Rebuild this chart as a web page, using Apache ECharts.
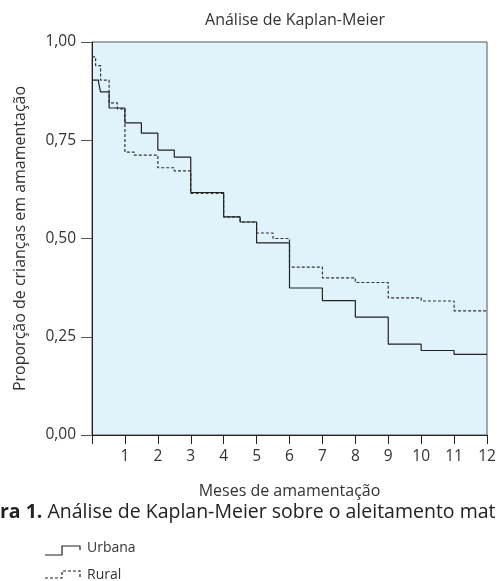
<!DOCTYPE html>
<html>
<head>
<meta charset="utf-8">
<script src="https://cdn.jsdelivr.net/npm/echarts@6/dist/echarts.min.js"></script>
<style>html,body{margin:0;padding:0;background:#fff}#c{width:499px;height:581px}</style>
</head>
<body>
<div id="c"></div>
<script>
const urbanTimes = [0, 0.2, 0.26, 0.52, 1, 1.5, 2, 2.5, 3, 4, 4.5, 5, 6, 7, 8, 9, 10, 11, 12];
const urbanSurv  = [0.903, 0.897, 0.873, 0.832, 0.794, 0.768, 0.725, 0.707, 0.617, 0.555, 0.542, 0.489, 0.374, 0.342, 0.300, 0.231, 0.215, 0.205, 0.205];
const ruralTimes = [0, 0.11, 0.26, 0.52, 0.77, 1, 1.28, 2, 2.5, 3, 4, 4.5, 5, 5.5, 6, 7, 8, 9, 10, 11, 12];
const ruralSurv  = [0.962, 0.94, 0.903, 0.845, 0.83, 0.72, 0.712, 0.68, 0.672, 0.615, 0.555, 0.542, 0.514, 0.50, 0.427, 0.40, 0.388, 0.349, 0.341, 0.316, 0.316];
const xTicks = [1,2,3,4,5,6,7,8,9,10,11,12];
const yTicks = [0, 0.25, 0.5, 0.75, 1];

const FONT = '"Open Sans", sans-serif';
const chart = echarts.init(document.getElementById('c'), null, {renderer: 'canvas'});
const pair = (t, v) => t.map((x, i) => [x, v[i]]);

chart.setOption({
  animation: false,
  backgroundColor: '#fff',
  title: {
    text: 'Análise de Kaplan-Meier',
    left: 290, top: 7, textAlign: 'center',
    textStyle: {fontFamily: FONT, fontSize: 16, fontWeight: 'normal', color: '#333'}
  },
  grid: {
    left: 92, right: 12, top: 42, bottom: 146,
    show: true, backgroundColor: '#e0f2fa', borderColor: '#555', borderWidth: 1
  },
  xAxis: {
    type: 'value', min: 0, max: 12, interval: 1,
    name: 'Meses de amamentação', nameLocation: 'middle', nameGap: 48,
    nameTextStyle: {fontFamily: FONT, fontSize: 16, color: '#333'},
    axisLine: {show: true, lineStyle: {color: '#222', width: 1}},
    axisTick: {show: true, length: 9, lineStyle: {color: '#222'}},
    axisLabel: {
      fontFamily: FONT, fontSize: 15.5, color: '#333', margin: 14,
      formatter: v => (xTicks.indexOf(v) >= 0 ? String(v) : '')
    },
    splitLine: {show: false}
  },
  yAxis: {
    type: 'value', min: 0, max: 1, interval: 0.25,
    name: 'Proporção de crianças em amamentação', nameLocation: 'middle', nameGap: 64,
    nameTextStyle: {fontFamily: FONT, fontSize: 16, color: '#333'},
    axisLine: {show: true, lineStyle: {color: '#222', width: 1}},
    axisTick: {show: true, length: 11, lineStyle: {color: '#555'}},
    axisLabel: {
      fontFamily: FONT, fontSize: 15.5, color: '#333', margin: 16,
      formatter: v => v.toFixed(2).replace('.', ',')
    },
    splitLine: {show: false}
  },
  series: [
    {
      name: 'Urbana', type: 'line', step: 'end', showSymbol: false,
      data: pair(urbanTimes, urbanSurv),
      lineStyle: {color: '#222', width: 1.2}, z: 3
    },
    {
      name: 'Rural', type: 'line', step: 'end', showSymbol: false,
      data: pair(ruralTimes, ruralSurv),
      lineStyle: {color: '#333', width: 1.2, type: [3, 2]}, z: 2
    }
  ],
  graphic: [
    {
      type: 'text', left: 0, top: 502,
      style: {
        text: '{b|ra 1.} Análise de Kaplan-Meier sobre o aleitamento mat',
        fontFamily: FONT, fontSize: 19.5, fill: '#222',
        rich: {b: {fontFamily: FONT, fontSize: 19.5, fontWeight: 'bold', fill: '#222'}}
      }
    },
    {type: 'polyline', shape: {points: [[45, 555], [62, 555], [62, 546], [80, 546], [80, 550]]},
     style: {stroke: '#222', lineWidth: 1.2, fill: null}},
    {type: 'text', left: 87, top: 541, style: {text: 'Urbana', fontFamily: FONT, fontSize: 14, fill: '#333'}},
    {type: 'polyline', shape: {points: [[45, 578], [62, 578], [62, 571], [80, 571], [80, 579]]},
     style: {stroke: '#222', lineWidth: 1.2, fill: null, lineDash: [3, 2]}},
    {type: 'text', left: 87, top: 568, style: {text: 'Rural', fontFamily: FONT, fontSize: 14, fill: '#333'}}
  ]
});
</script>
</body>
</html>
